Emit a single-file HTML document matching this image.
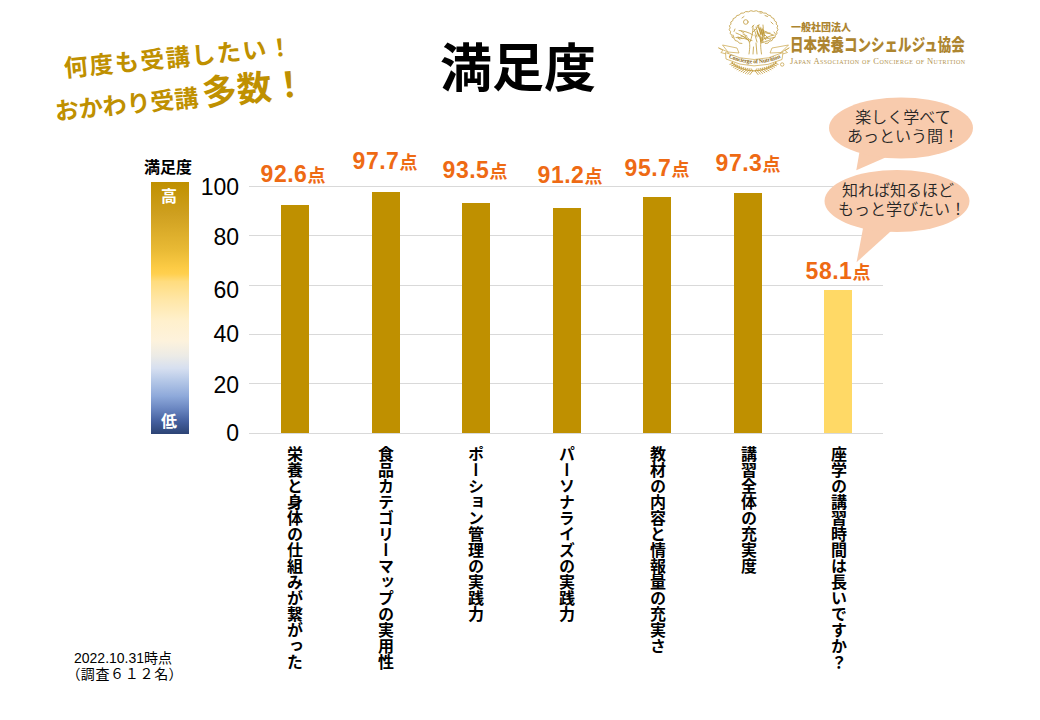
<!DOCTYPE html>
<html lang="ja">
<head>
<meta charset="utf-8">
<title>満足度</title>
<style>
html,body{margin:0;padding:0;background:#fff;}
body{width:1040px;height:720px;position:relative;overflow:hidden;font-family:"Liberation Sans","Noto Sans CJK JP",sans-serif;}
.abs{position:absolute;}
.jp{font-family:"Noto Sans CJK JP",sans-serif;}
.title{left:440px;top:39px;font-size:52px;font-weight:700;color:#000;line-height:1;white-space:nowrap;}
.catch{color:#BF9000;font-weight:700;white-space:nowrap;line-height:1;transform:rotate(-5.5deg);transform-origin:0 100%;}
.grid{left:249px;width:634px;height:1px;background:#D9D9D9;}
.bar{width:28px;background:#BF9000;}
.ylab{width:60px;left:179px;text-align:right;font-size:23px;line-height:24px;color:#000;font-family:"Liberation Sans",sans-serif;}
.val{color:#EE6A14;font-weight:700;white-space:nowrap;line-height:1;text-align:center;width:100px;}
.val .n{font-family:"Liberation Sans",sans-serif;font-size:23px;letter-spacing:0.5px;}
.val .p{font-family:"Noto Sans CJK JP",sans-serif;font-size:18px;}
.vlab{writing-mode:vertical-rl;font-family:"Noto Sans CJK JP",sans-serif;font-weight:700;font-size:16px;line-height:16px;top:446px;width:16px;color:#000;white-space:nowrap;}
.bub{font-family:"Noto Sans CJK JP",sans-serif;font-weight:350;font-size:16px;line-height:19px;color:#262626;white-space:nowrap;text-align:center;}
.foot{left:74px;top:650px;font-size:14px;line-height:16px;color:#000;font-family:"Liberation Sans","Noto Sans CJK JP",sans-serif;white-space:nowrap;}
</style>
</head>
<body>

<!-- catch copy -->
<div class="abs catch jp" id="c1" style="left:65px;top:55px;font-size:24px;letter-spacing:1.6px;">何度も受講したい！</div>
<div class="abs catch jp" id="c2" style="left:56px;top:87px;font-size:24px;letter-spacing:0px;">おかわり受講<span style="font-size:35px;margin-left:4px;">多数！</span></div>

<!-- title -->
<div class="abs title jp">満足度</div>

<!-- logo -->
<svg class="abs" style="left:715px;top:5px" width="82" height="72" viewBox="0 0 82 72">
<g fill="none" stroke="#C4A048" stroke-width="0.85" stroke-linecap="round" stroke-linejoin="round">
<path d="M26.9,38.5 Q23.4,38.9 22.8,36.3 Q19.2,36.1 19.4,33.5 Q16.0,32.7 17.0,30.2 Q13.9,28.9 15.6,26.6 Q12.9,24.8 15.2,22.8 Q13.2,20.7 16.0,19.1 Q14.6,16.7 17.8,15.7 Q17.2,13.1 20.7,12.5 Q20.8,9.9 24.4,10.0 Q25.2,7.4 28.7,8.0 Q30.3,5.7 33.5,6.8 Q35.8,4.8 38.6,6.4 Q41.4,4.8 43.7,6.8 Q46.9,5.7 48.5,8.0 Q52.0,7.4 52.8,10.0 Q56.4,9.9 56.5,12.5 Q60.0,13.1 59.4,15.7 Q62.6,16.7 61.2,19.1 Q64.0,20.7 62.0,22.8 Q64.3,24.8 61.6,26.6 Q63.3,28.9 60.2,30.2 Q61.2,32.7 57.8,33.5 Q58.0,36.1 54.4,36.3 Q53.8,38.9 50.3,38.5"/>
<circle cx="30.8" cy="17" r="2.3"/>
<path d="M27 13 l2 -1.5 M50 10.5 l2.5 1 M56 17 l2 2 M20 24 l-1 2.5 M23 33 l2 1.5 M59 27 l1.5 2 M45 8 l2 0 M18 30 l1 2.5"/>
</g>
<g fill="none" stroke="#BF9A3A" stroke-width="0.8" stroke-linecap="round">
<path d="M34 49 C35 42 35 39 34 36 C30 32 26 30 21 28 M34 36 C31 33 29 31 26 31 M35 37 C37 32 38 27 38 21 M38 27 C41 24 43 22 44 20 M46.5 49 C45.5 42 45.5 39 46 36 C48 30 49 25 48 20 M46 36 C50 33 54 31 59 30 M46 38 C50 37 53 36 55.5 34.5 M42 49 L41 38 M38 49 L38.5 42"/>
<path d="M39 24 l3 8 M41 22 l3 9 M43 21 l3 8 M45 22 l2.5 8 M47 23 l2 6 M40 30 l2 7 M44 29 l2 8 M48 31 l3 4 M50 30 l3 3 M30 31 l4 3 M28 29 l4 2 M37 22 l2 -2 M42 21 l2 -1 M49 26 l3 1 M52 28 l3 0"/>
<path d="M38 30 C33 27 29 26 24 25.5 M37 35.5 C32 34 27 33 21 32.5 M46 28 C50 27 54 28 58 30 M47 33 C51 33 55 34 59 32.5 M26 26 l3 2 M23 32 l4 1.5"/>
<path stroke-width="1.1" d="M44 23 l2 7 M46 24 l2 7 M48 25 l1.5 6 M45 31 l1 6 M47 32 l1 5 M42 26 l1.5 5"/>
</g>
<g fill="#fff" stroke="#C9A446" stroke-width="0.7" stroke-linejoin="round">
<path d="M13 47 L7.5 40 L22 43 L24 48 Z"/>
<path d="M13 47 L3.4 42.8 L8 45.5 L5.8 47.5 L13 49.5 Z"/>
<path d="M66 47.5 L73.5 40 L57 43 L55 48 Z"/>
<path d="M66 47.5 L74.3 42.8 L70 45.5 L72.5 47.5 L66 49.5 Z"/>
<path d="M10.5 47.5 Q39 61.5 68 47.5 L67 54.5 Q39 67.5 11 54 Z"/>
</g>
<path id="rb" d="M12.5 52.3 Q39 64.3 66.5 52.5" fill="none"/>
<text opacity="0.99" font-family="Liberation Serif,serif" font-size="6" font-weight="700" fill="#8F6E22" letter-spacing="-0.2"><textPath href="#rb" startOffset="50%" text-anchor="middle">Concierge of Nutrition</textPath></text>
<g fill="none" stroke="#C29B3C" stroke-width="0.85" stroke-linecap="round">
<path d="M61.5,57.8 A35,35 0 0 1 16.5,57.8"/>
<path d="M40.2,66.0 L43.1,69.6 M40.2,66.0 L41.8,63.7 M42.4,65.8 L45.4,69.1 M42.4,65.8 L43.8,63.6 M44.6,65.5 L47.6,68.5 M44.6,65.5 L45.8,63.3 M46.8,65.1 L49.8,67.7 M46.8,65.1 L47.7,62.9 M48.9,64.6 L51.9,66.8 M48.9,64.6 L49.7,62.4 M51.0,63.9 L54.0,65.9 M51.0,63.9 L51.6,61.8 M53.0,63.1 L56.0,64.7 M53.0,63.1 L53.5,61.1 M55.0,62.1 L57.9,63.5 M55.0,62.1 L55.3,60.2 M56.9,61.1 L59.7,62.2 M56.9,61.1 L57.1,59.3 M58.8,59.9 L61.4,60.8 M58.8,59.9 L58.8,58.2 M60.5,58.6 L63.1,59.3 M60.5,58.6 L60.5,57.0 M37.8,66.0 L34.9,69.6 M37.8,66.0 L36.2,63.7 M35.6,65.8 L32.6,69.1 M35.6,65.8 L34.2,63.6 M33.4,65.5 L30.4,68.5 M33.4,65.5 L32.2,63.3 M31.2,65.1 L28.2,67.7 M31.2,65.1 L30.3,62.9 M29.1,64.6 L26.1,66.8 M29.1,64.6 L28.3,62.4 M27.0,63.9 L24.0,65.9 M27.0,63.9 L26.4,61.8 M25.0,63.1 L22.0,64.7 M25.0,63.1 L24.5,61.1 M23.0,62.1 L20.1,63.5 M23.0,62.1 L22.7,60.2 M21.1,61.1 L18.3,62.2 M21.1,61.1 L20.9,59.3 M19.2,59.9 L16.6,60.8 M19.2,59.9 L19.2,58.2 M17.5,58.6 L14.9,59.3 M17.5,58.6 L17.5,57.0"/>
</g>
<circle cx="67.2" cy="59.5" r="1.7" fill="none" stroke="#C29B3C" stroke-width="0.7"/>
</svg>

<div class="abs jp" style="left:791px;top:22px;color:#AD8530;font-weight:900;font-size:10px;line-height:1;white-space:nowrap;">一般社団法人</div>
<div class="abs jp" style="left:790px;top:35px;color:#AD8530;font-weight:900;font-size:17px;line-height:1;white-space:nowrap;transform:scaleX(0.795);transform-origin:0 0;">日本栄養コンシェルジュ協会</div>
<div class="abs" style="left:790px;top:57px;color:#B39552;font-family:'Liberation Serif',serif;font-size:8.5px;line-height:9px;letter-spacing:0.45px;font-variant:small-caps;white-space:nowrap;">Japan Association of Concierge of Nutrition</div>

<!-- legend -->
<div class="abs jp" style="left:144px;top:156px;font-size:16px;font-weight:700;line-height:20px;">満足度</div>
<div class="abs" style="left:151px;top:182px;width:38px;height:252px;background:linear-gradient(to bottom,#BF9000 0%,#CFA020 13%,#E9BA35 27%,#FCCB45 34%,#FFD04F 36.5%,#FFDC7E 39.5%,#FFE7A8 47%,#FFF0CC 55%,#FDF2DC 63%,#ECEBE6 69%,#D6DFF0 74%,#B4C7E7 79%,#8EA9DA 85%,#6A86C1 90%,#45609F 95%,#2C4374 100%);"></div>
<div class="abs jp" style="left:161px;top:185px;font-size:16px;color:#fff;font-weight:700;line-height:20px;">高</div>
<div class="abs jp" style="left:161px;top:410px;font-size:16px;color:#fff;font-weight:700;line-height:20px;">低</div>

<!-- gridlines -->
<div class="abs grid" style="top:186px"></div>
<div class="abs grid" style="top:235px"></div>
<div class="abs grid" style="top:285px"></div>
<div class="abs grid" style="top:334px"></div>
<div class="abs grid" style="top:383px"></div>
<div class="abs grid" style="top:433px"></div>

<!-- y labels -->
<div class="abs ylab" style="top:175px">100</div>
<div class="abs ylab" style="top:225px">80</div>
<div class="abs ylab" style="top:278px">60</div>
<div class="abs ylab" style="top:322px">40</div>
<div class="abs ylab" style="top:373px">20</div>
<div class="abs ylab" style="top:421px">0</div>

<!-- bars -->
<div class="abs bar" style="left:281px;top:205px;height:228px"></div>
<div class="abs bar" style="left:372px;top:192px;height:241px"></div>
<div class="abs bar" style="left:462px;top:203px;height:230px"></div>
<div class="abs bar" style="left:553px;top:208px;height:225px"></div>
<div class="abs bar" style="left:643px;top:197px;height:236px"></div>
<div class="abs bar" style="left:734px;top:193px;height:240px"></div>
<div class="abs bar" style="left:824px;top:290px;height:143px;background:#FFD966"></div>

<!-- value labels -->
<div class="abs val" style="left:243px;top:163px"><span class="n">92.6</span><span class="p">点</span></div>
<div class="abs val" style="left:335px;top:150px"><span class="n">97.7</span><span class="p">点</span></div>
<div class="abs val" style="left:425px;top:159px"><span class="n">93.5</span><span class="p">点</span></div>
<div class="abs val" style="left:520px;top:164px"><span class="n">91.2</span><span class="p">点</span></div>
<div class="abs val" style="left:607px;top:157px"><span class="n">95.7</span><span class="p">点</span></div>
<div class="abs val" style="left:698px;top:152px"><span class="n">97.3</span><span class="p">点</span></div>
<div class="abs val" style="left:788px;top:260px"><span class="n">58.1</span><span class="p">点</span></div>

<!-- category labels -->
<div class="abs vlab" style="left:287px">栄養と身体の仕組みが繋がった</div>
<div class="abs vlab" style="left:378px">食品カテゴリーマップの実用性</div>
<div class="abs vlab" style="left:468px">ポーション管理の実践力</div>
<div class="abs vlab" style="left:559px">パーソナライズの実践力</div>
<div class="abs vlab" style="left:650px">教材の内容と情報量の充実さ</div>
<div class="abs vlab" style="left:741px">講習全体の充実度</div>
<div class="abs vlab" style="left:831px">座学の講習時間は長いですか？</div>

<!-- bubbles -->
<svg class="abs" style="left:0;top:0" width="1040" height="720">
  <path d="M860.7 145 L856.3 170.2 L902.7 150 Z" fill="#F8CBAD"/>
  <ellipse cx="901" cy="128" rx="72" ry="30.5" fill="#F8CBAD"/>
  <path d="M864.6 220 L856.6 262.2 L901 222 Z" fill="#F8CBAD"/>
  <ellipse cx="897" cy="201" rx="72.5" ry="31" fill="#F8CBAD"/>
</svg>
<div class="abs bub" style="left:843px;top:107px;width:120px">楽しく学べて<br>あっという間！</div>
<div class="abs bub" style="left:838px;top:180px;width:120px">知れば知るほど<br>もっと学びたい！</div>

<!-- footnote -->
<div class="abs foot" style="top:650px">2022.10.31時点</div>
<div class="abs foot" style="top:666px;left:73px;letter-spacing:0.7px"><span style="font-feature-settings:'palt'">（</span>調査６１２名<span style="font-feature-settings:'palt'">）</span></div>

</body>
</html>
